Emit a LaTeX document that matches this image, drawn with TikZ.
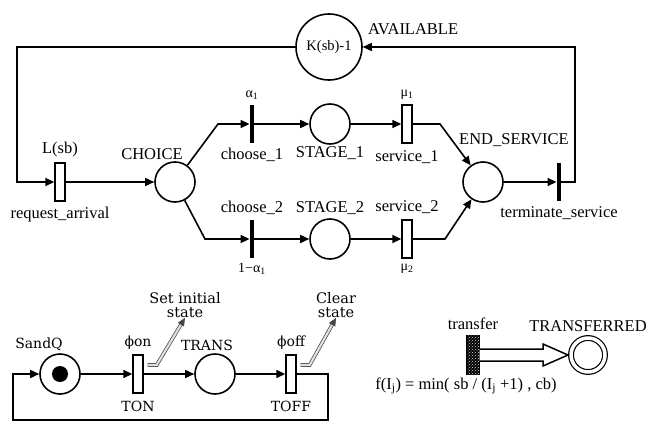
\documentclass[tikz,border=0pt]{standalone}
\usepackage{fontspec}
\setmainfont{Liberation Serif}
\newfontfamily\schfont{DejaVu Serif}
\usepackage{tikz}
\usetikzlibrary{arrows.meta, positioning, calc, patterns}
\tikzset{
	place/.style ={circle, draw=black, line width=1.6pt, minimum size=40pt, inner sep=0pt, fill=white},
	timed/.style ={rectangle, draw=black, line width=1.4pt, fill=white, minimum width=10pt, minimum height=38pt, inner sep=0pt},
	immed/.style ={rectangle, fill=black, minimum width=4.5pt, minimum height=38pt, inner sep=0pt},
	arc/.style   ={-{Triangle[length=9pt, width=8pt]}, line width=1.6pt},
	% label styles
	lbl/.style   ={font=\fontsize{16.5}{18}\selectfont, inner sep=1pt},
	slbl/.style  ={font=\fontsize{14}{15}\selectfont, inner sep=1pt},
	cslbl/.style ={font=\schfont\fontsize{14}{15}\selectfont, inner sep=1pt},
	% annotation and hollow arrows
	note/.style  ={draw=gray!55!black, line width=0.7pt, double=gray!25, double distance=2.2pt, -{Triangle[length=8pt, width=7pt]}},
	hollow/.style={draw=black, line width=1.5pt, fill=white, line join=miter},
}

\begin{document}
\begin{tikzpicture}[x=1pt, y=-1pt, label distance=4pt]
	\useasboundingbox (0,0) rectangle (653,423);
	% service net
	\node[place, minimum size=66pt, font=\fontsize{14.5}{16}\selectfont, label={[lbl, yshift=18pt]right:AVAILABLE}] (avail) at (329,47) {K(sb)-1};
	\node[timed, label={[lbl]above:L(sb)}, label={[lbl]below:request\_arrival}] (req) at (60,182) {};
	\node[place, label={[lbl, xshift=-23pt, label distance=0pt]above:CHOICE}] (choice) at (175,182) {};
	\node[immed, label={[slbl]above:α\textsubscript{1}}, label={[lbl]below:choose\_1}] (ch1) at (252,124) {};
	\node[immed, label={[lbl]above:choose\_2}, label={[slbl]below:1−α\textsubscript{1}}] (ch2) at (252,239) {};
	\node[place, label={[lbl, label distance=1pt]below:STAGE\_1}] (st1) at (330,124) {};
	\node[place, label={[lbl, label distance=2pt]above:STAGE\_2}] (st2) at (330,239) {};
	\node[timed, label={[slbl]above:μ\textsubscript{1}}, label={[lbl, label distance=6pt]below:service\_1}] (sv1) at (407,124) {};
	\node[timed, label={[lbl]above:service\_2}, label={[slbl]below:μ\textsubscript{2}}] (sv2) at (407,239) {};
	\node[place, label={[lbl, xshift=31pt, label distance=13pt]above:END\_SERVICE}] (endsv) at (483,182) {};
	\node[immed, label={[lbl]below:terminate\_service}] (term) at (559,182) {};
	\coordinate (b0) at (17,47);
	\coordinate (b1) at (218,124);
	\coordinate (b2) at (205,239);
	\coordinate (b3) at (440,124);
	\coordinate (b4) at (445,239);
	\coordinate (b5) at (575,47);
	\draw[arc] (avail) -- (b0) |- (req);
	\draw[arc] (req) -- (choice);
	\draw[arc] (choice) -- (b1) -- (ch1);
	\draw[arc] (choice) -- (b2) -- (ch2);
	\draw[arc] (ch1) -- (st1);
	\draw[arc] (ch2) -- (st2);
	\draw[arc] (st1) -- (sv1);
	\draw[arc] (st2) -- (sv2);
	\draw[arc] (sv1) -- (b3) -- (endsv);
	\draw[arc] (sv2) -- (b4) -- (endsv);
	\draw[arc] (endsv) -- (term);
	\draw[arc] (term) -| (b5) -- (avail);
	% on/off net
	\node[place, label={[cslbl, xshift=-21pt, label distance=1pt]above:SandQ}] (sandq) at (60,374) {};
	\node[circle, fill=black, minimum size=16pt, inner sep=0pt] (tok) at (sandq) {};
	\node[timed, label={[cslbl]above:ϕon}, label={[cslbl, label distance=6pt]below:TON}] (ton) at (138,374) {};
	\node[place, label={[cslbl, xshift=-8pt, label distance=1pt]above:TRANS}] (trans) at (215,374) {};
	\node[timed, label={[cslbl]above:ϕoff}, label={[cslbl, label distance=6pt]below:TOFF}] (toff) at (291,374) {};
	\node[font=\schfont\fontsize{14.5}{14}\selectfont, align=center, inner sep=0pt] (setinit) at (185,305) {Set initial\\state};
	\node[font=\schfont\fontsize{14.5}{14}\selectfont, align=center, inner sep=0pt] (clear) at (336,305) {Clear\\state};
	\coordinate (c1) at (328,420);
	\coordinate (c2) at (13,420);
	\draw[arc] (sandq) -- (ton);
	\draw[arc] (ton) -- (trans);
	\draw[arc] (trans) -- (toff);
	\draw[arc] (toff) -| (c1) -- (c2) |- (sandq);
	\draw[note] ($(ton.east)+(4,-9)$) -- ++(9,0) -- (setinit.south);
	\draw[note] ($(toff.east)+(4,-9)$) -- ++(9,0) -- (clear.south);
	% transfer
	\node[timed, minimum width=12pt, minimum height=39pt, fill=black, postaction={pattern=crosshatch dots, pattern color=white!85!black}, label={[lbl]above:transfer}, label={[lbl, xshift=-7pt, label distance=1pt]below:f(I\textsubscript{j}) = min( sb / (I\textsubscript{j} +1) , cb)}] (xfer) at (473,355) {};
	\node[circle, draw=black, line width=1.2pt, double, double distance=3.5pt, minimum size=34pt, inner sep=0pt, label={[lbl, label distance=5pt]above:TRANSFERRED}] (dest) at (588,355) {};
	\coordinate (tip) at ($(dest.center)+(-20,0)$);
	\draw[hollow] ($(xfer.east)+(0,-6)$) -- ($(tip)+(-25,-6)$) -- ($(tip)+(-25,-11)$) -- (tip) -- ($(tip)+(-25,11)$) -- ($(tip)+(-25,6)$) -- ($(xfer.east)+(0,6)$);
\end{tikzpicture}
\end{document}
